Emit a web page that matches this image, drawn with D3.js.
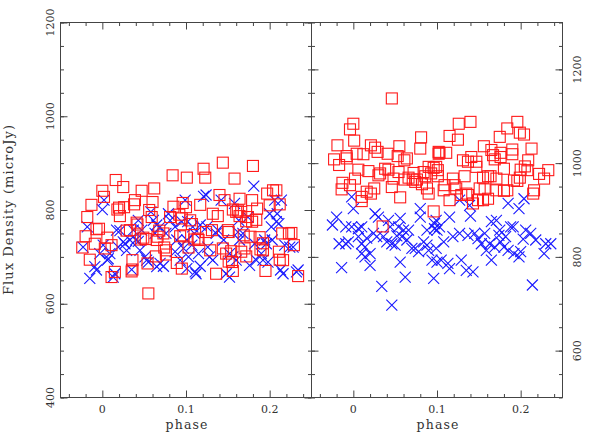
<!DOCTYPE html>
<html><head><meta charset="utf-8">
<script src="https://cdn.jsdelivr.net/npm/d3@7"></script>
<style>body{margin:0;background:#fff}</style>
</head><body><svg id="c" width="598" height="447"></svg>
<script>
// ---- data ----
const phaseTicks = [0, 0.1, 0.2];
const phaseTickLabels = ["0", "0.1", "0.2"];
const leftFluxTicks = [400, 600, 800, 1000, 1200];
const rightFluxTicks = [600, 800, 1000, 1200];
const xLabel = "phase";
const yLabel = "Flux Density (microJy)";

// left panel, red squares [phase, flux]
const leftRed = [[-0.024,720],[-0.018,785],[-0.013,811],[-0.020,744],[-0.015,694],[-0.004,760],[-0.009,728],[0.000,841],[0.002,828],[0.006,741],[0.003,718],[0.011,657],[0.015,668],[0.016,864],[0.018,801],[0.021,787],[0.025,849],[0.026,806],[0.029,756],[0.033,757],[0.036,693],[0.036,673],[0.038,812],[0.039,821],[0.041,773],[0.047,841],[0.049,741],[0.052,738],[0.055,622],[0.054,686],[0.056,800],[0.059,785],[0.060,817],[0.062,846],[0.065,736],[0.068,756],[0.073,750],[0.076,714],[0.076,705],[0.081,785],[0.085,807],[0.084,874],[0.089,687],[0.092,790],[0.095,675],[0.097,746],[0.101,869],[0.103,720],[0.105,778],[0.107,770],[0.110,737],[0.115,736],[0.117,811],[0.121,888],[0.123,869],[0.124,753],[0.129,714],[0.131,757],[0.132,792],[0.136,664],[0.138,787],[0.140,832],[0.144,718],[0.148,707],[0.150,757],[0.155,689],[0.156,670],[0.158,867],[0.160,796],[0.164,824],[0.162,799],[0.164,787],[0.166,711],[0.172,701],[0.174,785],[0.179,775],[0.180,894],[0.179,821],[0.185,803],[0.188,742],[0.192,714],[0.192,729],[0.195,670],[0.197,835],[0.200,810],[0.204,842],[0.208,842],[0.212,812],[0.211,711],[0.216,693],[0.215,750],[0.223,750],[0.229,725],[0.234,659],
[0.020,805],[0.011,725],[0.046,737],[0.066,743],[0.074,720],[0.064,701],[0.035,669],[0.093,744],[-0.007,759],[0.042,769],[0.095,782],[0.100,806],[0.144,901],[0.096,815],[0.146,821],[0.156,801],[0.166,796],[0.172,776],[0.184,779],[0.114,739],[0.151,753],[0.169,746],[0.177,743],[0.226,751],[0.189,716],[0.154,712],[0.170,718],[0.151,690],[0.212,694]];

// left panel, blue crosses [phase, flux]
const leftBlue = [[-0.023,721],[-0.018,764],[-0.015,654],[-0.009,679],[-0.007,672],[0.002,821],[0.000,801],[0.006,693],[0.009,707],[0.013,657],[0.015,664],[0.007,696],[0.001,725],[0.017,757],[0.021,756],[0.025,732],[0.029,714],[0.033,736],[0.035,673],[0.037,757],[0.043,733],[0.043,778],[0.045,714],[0.051,700],[0.055,689],[0.058,796],[0.065,768],[0.069,764],[0.065,679],[0.069,686],[0.073,680],[0.076,750],[0.079,792],[0.081,778],[0.087,764],[0.087,711],[0.097,718],[0.093,693],[0.099,821],[0.102,775],[0.103,700],[0.095,775],[0.101,736],[0.107,725],[0.112,664],[0.111,668],[0.101,675],[0.115,707],[0.117,768],[0.117,680],[0.121,829],[0.124,832],[0.125,764],[0.128,700],[0.132,693],[0.138,757],[0.142,821],[0.148,664],[0.152,657],[0.152,707],[0.156,700],[0.160,693],[0.158,814],[0.162,753],[0.168,750],[0.174,785],[0.176,682],[0.181,851],[0.182,728],[0.184,693],[0.192,693],[0.198,689],[0.196,728],[0.200,792],[0.202,764],[0.206,821],[0.208,775],[0.209,792],[0.214,821],[0.211,771],[0.216,664],[0.218,725],[0.228,721],[0.232,668],[0.234,672],[0.027,728],[0.040,736],[0.047,757],[0.053,693],[0.061,778],[0.063,750],[0.089,736],[0.108,764],[0.110,750],[0.126,721],[0.136,750],[0.145,736],[0.163,778],[0.164,736],[0.190,707],[0.194,736],[0.203,736],[0.213,672],[0.224,721],[-0.003,707],[0.019,721]];

// right panel, red squares [phase, flux]
const rightRed = [[0.046,1138],[0.000,1084],[-0.004,1072],[0.001,1048],[-0.019,1038],[-0.023,1008],[-0.017,996],[-0.008,1015],[-0.008,1010],[0.004,1020],[0.012,1019],[0.021,1038],[0.026,1033],[0.029,1024],[0.041,1020],[0.053,1015],[0.055,1036],[0.064,1010],[0.061,1006],[0.080,1031],[0.081,1055],[0.096,990],[0.103,1022],[0.006,986],[0.018,983],[0.002,967],[-0.013,958],[-0.014,944],[-0.004,953],[0.025,946],[0.016,939],[0.021,935],[0.010,928],[0.010,919],[0.032,978],[0.030,974],[0.038,988],[0.042,986],[0.048,967],[0.046,949],[0.056,927],[0.054,981],[0.061,965],[0.066,969],[0.071,965],[0.074,960],[0.076,965],[0.072,979],[0.084,981],[0.086,972],[0.082,955],[0.088,946],[0.090,935],[0.090,992],[0.093,978],[0.096,897],[0.101,972],[0.101,985],[0.035,865],
[0.126,1084],[0.140,1088],[0.115,1058],[0.125,1050],[0.175,1056],[0.184,1074],[0.196,1088],[0.199,1065],[0.204,1061],[0.156,1036],[0.102,1024],[0.111,1022],[0.102,1020],[0.165,1028],[0.167,1017],[0.176,1022],[0.176,1013],[0.190,1029],[0.190,1019],[0.213,1031],[0.131,1006],[0.141,1013],[0.137,1003],[0.147,1003],[0.147,992],[0.169,1008],[0.180,988],[0.099,992],[0.209,1006],[0.208,985],[0.205,993],[0.222,977],[0.233,985],[0.228,967],[0.200,986],[0.199,969],[0.196,962],[0.192,963],[0.133,972],[0.119,967],[0.121,953],[0.109,953],[0.108,942],[0.161,972],[0.164,972],[0.171,967],[0.155,969],[0.151,946],[0.157,944],[0.155,921],[0.161,924],[0.149,921],[0.143,914],[0.137,932],[0.135,935],[0.115,921],[0.123,946],[0.129,932],[0.171,942],[0.180,941],[0.184,942],[0.216,942],[0.215,935]];

// right panel, blue crosses [phase, flux]
const rightBlue = [[-0.002,928],[0.000,903],[-0.020,885],[-0.025,868],[-0.009,864],[-0.002,864],[0.006,860],[0.010,864],[-0.017,828],[-0.009,828],[-0.006,832],[0.006,843],[0.010,828],[0.014,821],[0.010,807],[0.014,800],[0.020,807],[0.020,782],[-0.014,777],[0.026,892],[0.030,885],[0.024,850],[0.028,843],[0.036,843],[0.042,878],[0.044,864],[0.040,832],[0.046,828],[0.050,825],[0.056,882],[0.054,864],[0.060,857],[0.066,857],[0.058,843],[0.064,836],[0.056,789],[0.062,757],[0.034,737],[0.046,697],[0.080,903],[0.080,885],[0.088,857],[0.088,825],[0.090,814],[0.070,818],[0.074,818],[0.078,811],[0.097,871],[0.100,857],[0.094,793],[0.100,789],[0.096,754],[0.084,832],
[0.099,878],[0.103,864],[0.097,860],[0.115,885],[0.140,887],[0.127,921],[0.139,910],[0.119,843],[0.127,850],[0.137,846],[0.145,850],[0.149,839],[0.157,850],[0.165,875],[0.171,878],[0.175,857],[0.163,828],[0.169,821],[0.176,832],[0.182,843],[0.188,864],[0.191,864],[0.185,914],[0.198,903],[0.204,924],[0.206,857],[0.212,850],[0.218,836],[0.230,828],[0.192,807],[0.198,800],[0.200,811],[0.099,818],[0.105,793],[0.113,786],[0.115,775],[0.129,793],[0.135,771],[0.143,768],[0.159,814],[0.165,793],[0.180,821],[0.185,814],[0.228,807],[0.214,740],[0.236,828],[0.016,840],[0.052,845],[0.108,832],[0.153,828],[0.174,846],[0.203,838]];

// ---- layout ----
const svg = d3.select("#c");
const yTop = 22.5, yBot = 397.5;
const panels = [
  {x0: 60.5, x1: 311.5, yDom: [400, 1200], red: leftRed, blue: leftBlue},
  {x0: 311.5, x1: 562.5, yDom: [500, 1300], red: rightRed, blue: rightBlue}
];
const ink = "#444";
const minorX = d3.range(-2, 13).map(i => i * 0.02).filter(v => Math.abs(v*10 - Math.round(v*10)) > 1e-6);
const majorX = phaseTicks;

function ticksOn(g, axis) {
  g.call(axis);
  g.select(".domain").remove();
  g.selectAll("text").remove();
  g.selectAll(".tick line").attr("stroke", ink).attr("stroke-width", 1);
}

panels.forEach((p, i) => {
  p.x = d3.scaleLinear().domain([-0.05, 0.25]).range([p.x0, p.x1]);
  p.y = d3.scaleLinear().domain(p.yDom).range([yBot, yTop]);
  const g = svg.append("g");
  g.append("g").attr("transform", `translate(0,${yBot})`).call(s => ticksOn(s, d3.axisBottom(p.x).tickValues(minorX).tickSize(-3.5)));
  g.append("g").attr("transform", `translate(0,${yBot})`).call(s => ticksOn(s, d3.axisBottom(p.x).tickValues(majorX).tickSize(-7)));
  g.append("g").attr("transform", `translate(0,${yTop})`).call(s => ticksOn(s, d3.axisTop(p.x).tickValues(minorX).tickSize(-3.5)));
  g.append("g").attr("transform", `translate(0,${yTop})`).call(s => ticksOn(s, d3.axisTop(p.x).tickValues(majorX).tickSize(-7)));
  const minorY = d3.range(p.yDom[0], p.yDom[1] + 1, 50);
  const majorY = i === 0 ? leftFluxTicks : rightFluxTicks;
  [[d3.axisLeft, p.x0], [d3.axisRight, p.x1]].forEach(([ax, xx]) => {
    g.append("g").attr("transform", `translate(${xx},0)`).call(s => ticksOn(s, ax(p.y).tickValues(minorY).tickSize(-3.5)));
    g.append("g").attr("transform", `translate(${xx},0)`).call(s => ticksOn(s, ax(p.y).tickValues(majorY).tickSize(-7)));
  });
  g.selectAll(".xl").data(phaseTicks).join("text")
    .attr("x", d => p.x(d)).attr("y", 413)
    .attr("text-anchor", "middle").attr("font-family", "DejaVu Serif").attr("font-size", 11).attr("fill", "#333")
    .text((d, k) => phaseTickLabels[k]);
  g.append("text").attr("x", (p.x0 + p.x1) / 2 + 0.5).attr("y", 428.5)
    .attr("text-anchor", "middle").attr("font-family", "DejaVu Serif").attr("font-size", 12.5).attr("fill", "#333")
    .attr("textLength", 42)
    .text(xLabel);
  const lx = i === 0 ? 54 : 580.5;
  g.selectAll(".yl").data(majorY).join("text")
    .attr("transform", d => `translate(${lx},${p.y(d)}) rotate(-90)`)
    .attr("text-anchor", "middle").attr("font-family", "DejaVu Serif").attr("font-size", 11).attr("fill", "#333")
    .text(d => d);
  g.selectAll(".bx").data(p.blue).join("path")
    .attr("transform", d => `translate(${p.x(d[0])},${p.y(d[1])})`)
    .attr("d", "M-5.5,-5.5L5.5,5.5M-5.5,5.5L5.5,-5.5")
    .attr("stroke", "#1a1aff").attr("stroke-width", 1.1).attr("fill", "none");
  g.selectAll(".rs").data(p.red).join("rect")
    .attr("x", d => p.x(d[0]) - 5.5).attr("y", d => p.y(d[1]) - 5.5)
    .attr("width", 11).attr("height", 11)
    .attr("stroke", "#ff1a1a").attr("stroke-width", 1.1).attr("fill", "none");
  g.append("rect").attr("x", p.x0).attr("y", yTop).attr("width", p.x1 - p.x0).attr("height", yBot - yTop)
    .attr("fill", "none").attr("stroke", ink).attr("stroke-width", 1);
});

svg.append("text")
  .attr("transform", `translate(13,210) rotate(-90)`)
  .attr("text-anchor", "middle").attr("font-family", "DejaVu Serif").attr("font-size", 13).attr("fill", "#333")
  .attr("textLength", 170)
  .text(yLabel);
</script></body></html>
